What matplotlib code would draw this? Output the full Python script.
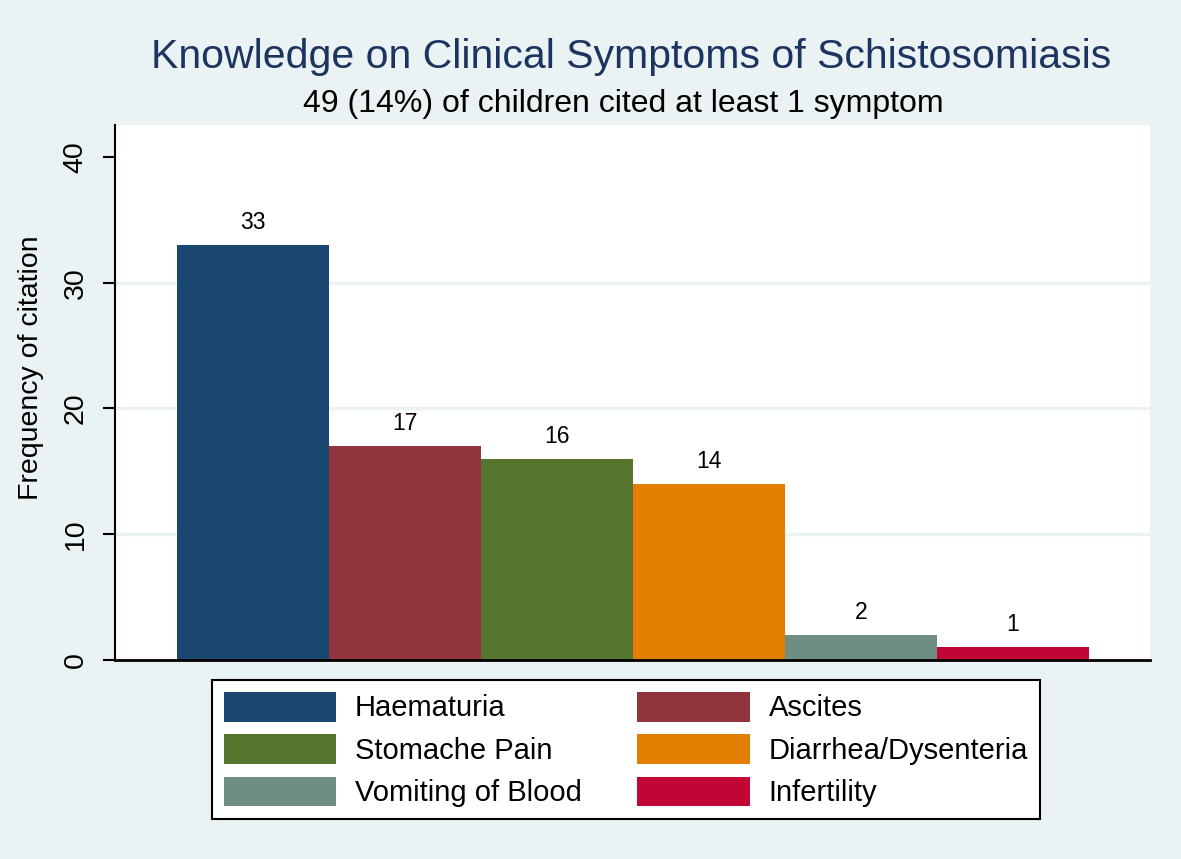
'''
Bar chart of knowledge on clinical symptoms of schistosomiasis (Stata s2color look)
'''
import matplotlib
matplotlib.use('Agg')
import matplotlib.pyplot as plt
from matplotlib.patches import Patch

symptoms = ['Haematuria', 'Ascites', 'Stomache Pain', 'Diarrhea/Dysenteria',
            'Vomiting of Blood', 'Infertility']
counts = [33, 17, 16, 14, 2, 1]
colors = ['#1a476f', '#90353b', '#55752f', '#e37e00', '#6e8e84', '#c10534']
yticks = [0, 10, 20, 30, 40]
grid_at = [10, 20, 30]

plt.rcParams['font.family'] = ['Liberation Sans', 'DejaVu Sans']
bg = '#eaf2f3'

fig = plt.figure(figsize=(11.81, 8.59), dpi=100, facecolor=bg)
ax = fig.add_axes([115 / 1181, 1 - 660 / 859, (1150 - 115) / 1181, (660 - 125) / 859])
ax.set_facecolor('white')

xpos = list(range(len(counts)))
bars = ax.bar(xpos, counts, width=1.0, color=colors, edgecolor='none', zorder=3)
for x, v in zip(xpos, counts):
    ax.annotate(str(v), (x, v), xytext=(0, 8), textcoords='offset points',
                ha='center', va='bottom', fontsize=16.5, color='black')

ax.set_xlim(-0.908, 5.901)
ax.set_ylim(0, 42.54)
ax.set_xticks([])
ax.set_yticks(yticks)
ax.set_yticklabels([str(t) for t in yticks], rotation=90, va='center', fontsize=20.5)
ax.tick_params(axis='y', length=9, width=1.5, pad=10, color='black')
for g in grid_at:
    ax.axhline(g, color=bg, lw=2.5, zorder=1)

for s in ['top', 'right']:
    ax.spines[s].set_visible(False)
ax.spines['left'].set_linewidth(1.5)
ax.spines['bottom'].set_linewidth(2)
ax.spines['bottom'].set_zorder(4)

fig.text(31 / 1181, 1 - 368 / 859, 'Frequency of citation', rotation=90,
         ha='center', va='center', fontsize=20.5)

fig.text(631 / 1181, 1 - 57 / 859, 'Knowledge on Clinical Symptoms of Schistosomiasis',
         ha='center', va='center', fontsize=29.5, color='#1c3560')
fig.text(623 / 1181, 1 - 104 / 859, '49 (14%) of children cited at least 1 symptom',
         ha='center', va='center', fontsize=23, color='black')

# legend is filled column-wise, so reorder to get row-wise placement
handles = [Patch(facecolor=c, edgecolor='none') for c in colors]
order = [0, 2, 4, 1, 3, 5]
leg = fig.legend([handles[i] for i in order], [symptoms[i] for i in order],
                 ncol=2, loc='upper left',
                 bbox_to_anchor=(212 / 1181, 1 - 680 / 859),
                 borderaxespad=0, fontsize=21, handlelength=3.85, handleheight=1.2,
                 handletextpad=0.65, labelspacing=0.4, borderpad=0.4,
                 columnspacing=1.9,
                 frameon=True, fancybox=False, edgecolor='black', facecolor='white',
                 framealpha=1)
leg.get_frame().set_linewidth(1.5)

fig.savefig('out.png', dpi=100, facecolor=bg)
